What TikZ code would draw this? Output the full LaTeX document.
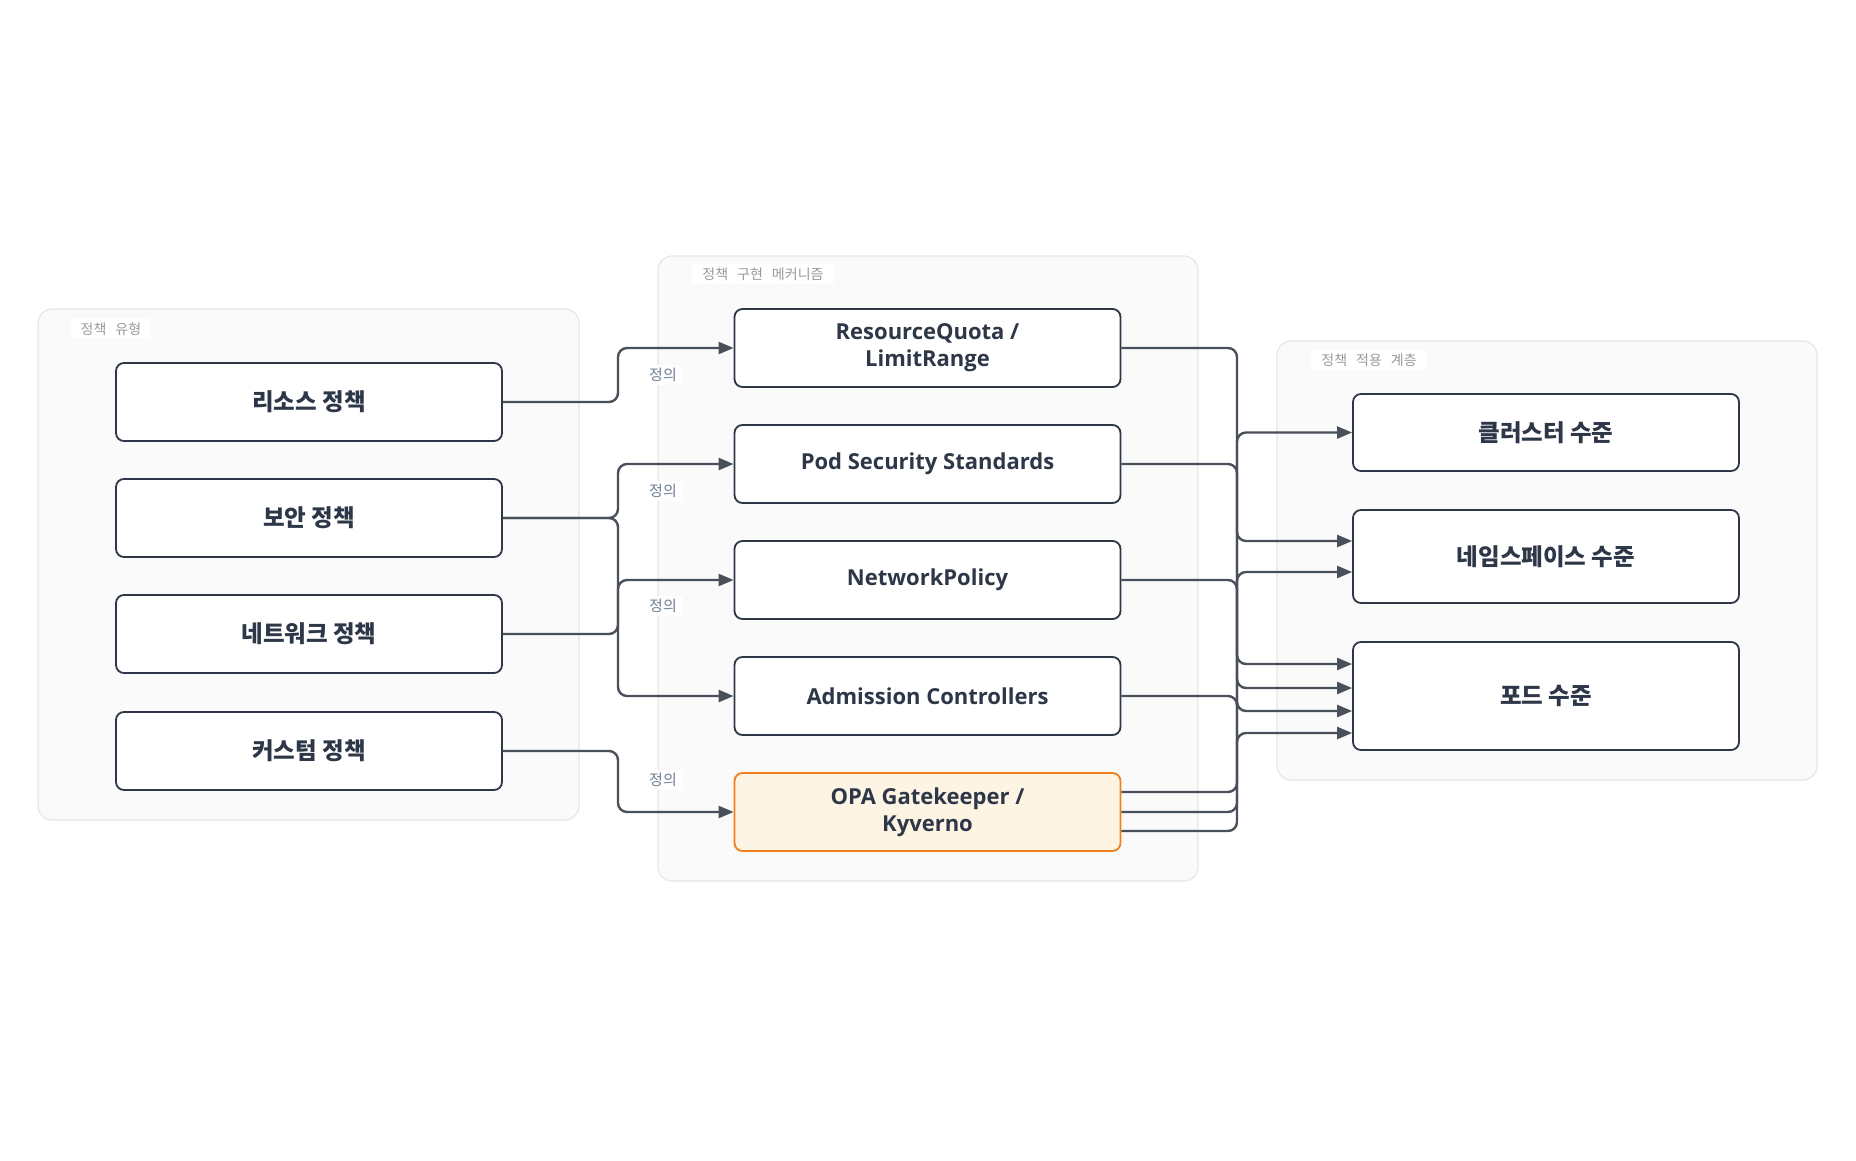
\documentclass[tikz,border=0pt]{standalone}
\usepackage{fontspec}
\setmainfont{Open Sans}
\newfontfamily\kr{Noto Sans CJK KR}
\usetikzlibrary{arrows.meta,calc}
\definecolor{nodeline}{HTML}{2D3748}
\definecolor{edgeline}{HTML}{4A5059}
\definecolor{grpline}{HTML}{E6E6E6}
\definecolor{grpfill}{HTML}{FAFAFA}
\definecolor{grptext}{HTML}{9A9A9A}
\definecolor{lbltext}{HTML}{718096}
\definecolor{opaline}{HTML}{F07F1E}
\definecolor{opafill}{HTML}{FEF4E4}
\begin{document}
\begin{tikzpicture}[x=1pt,y=-1pt,
  grp/.style={draw=grpline,fill=grpfill,rounded corners=14pt,line width=1.2pt},
  grplabel/.style={fill=white,text=grptext,inner xsep=10pt,inner ysep=4pt,font={\kr\fontsize{14}{16}\selectfont\spaceskip=9pt\relax}},
  box/.style={draw=nodeline,fill=white,line width=1.8pt,rounded corners=8pt,minimum width=386pt,minimum height=78pt,inner sep=0pt,text=nodeline,align=center,font=\bfseries\fontsize{22}{27}\selectfont},
  krbox/.style={box,font=\kr\bfseries\fontsize{23.5}{27}\selectfont},
  edge/.style={draw=edgeline,line width=2.4pt,rounded corners=9pt,-{Triangle[length=15pt,width=12pt]}},
  elabel/.style={fill=white,fill opacity=0.85,text opacity=1,text=lbltext,inner xsep=6pt,inner ysep=3pt,font=\kr\fontsize{15}{17}\selectfont}]
\useasboundingbox (0,0) rectangle (1856,1160);

% groups
\draw[grp] (38,309) rectangle (579,820);
\draw[grp] (658,256) rectangle (1198,881);
\draw[grp] (1277,341) rectangle (1817,780);
\node[grplabel] (gtype) at (111,329) {정책 유형};
\node[grplabel] (gmech) at (763,274) {정책 구현 메커니즘};
\node[grplabel] (glevel) at (1369,360) {정책 적용 계층};

% policy types
\node[krbox] (res) at (309,402) {리소스 정책};
\node[krbox] (sec) at (309,518) {보안 정책};
\node[krbox] (net) at (309,634) {네트워크 정책};
\node[krbox] (cus) at (309,751) {커스텀 정책};

% mechanisms
\node[box] (rq) at (927.5,348) {ResourceQuota /\\LimitRange};
\node[box] (pss) at (927.5,464) {Pod Security Standards};
\node[box] (np) at (927.5,580) {NetworkPolicy};
\node[box] (adm) at (927.5,696) {Admission Controllers};
\node[box,draw=opaline,fill=opafill] (opa) at (927.5,812) {OPA Gatekeeper /\\Kyverno};

% levels
\node[krbox,minimum height=77pt] (clu) at (1546,432.5) {클러스터 수준};
\node[krbox,minimum height=93pt] (ns) at (1546,556.5) {네임스페이스 수준};
\node[krbox,minimum height=108pt] (pod) at (1546,696) {포드 수준};

\coordinate (lbus) at (618,0);
\coordinate (rbus) at (1237,0);

% type -> mechanism
\draw[edge] (res.east) -- (res.east -| lbus) |- (rq.west);
\draw[edge] (sec.east) -- (sec.east -| lbus) |- (pss.west);
\draw[edge] (sec.east) -- (sec.east -| lbus) |- (adm.west);
\draw[edge] (net.east) -- (net.east -| lbus) |- (np.west);
\draw[edge] (cus.east) -- (cus.east -| lbus) |- (opa.west);
\node[elabel] (d1) at (663,375) {정의};
\node[elabel] (d2) at (663,491) {정의};
\node[elabel] (d3) at (663,606) {정의};
\node[elabel] (d4) at (663,780) {정의};

% mechanism -> level
\draw[edge] (rq.east) -- (rq.east -| rbus) |- ($(ns.west)+(0,-15.5)$);
\draw[edge] (pss.east) -- (pss.east -| rbus) |- ($(pod.west)+(0,-32)$);
\draw[edge] (np.east) -- (np.east -| rbus) |- ($(pod.west)+(0,-8)$);
\draw[edge] (adm.east) -- (adm.east -| rbus) |- ($(pod.west)+(0,15)$);
\draw[edge] ($(opa.east)+(0,-20)$) -- ($(opa.east -| rbus)+(0,-20)$) |- (clu.west);
\draw[edge] (opa.east) -- (opa.east -| rbus) |- ($(ns.west)+(0,15.5)$);
\draw[edge] ($(opa.east)+(0,19)$) -- ($(opa.east -| rbus)+(0,19)$) |- ($(pod.west)+(0,37)$);

\end{tikzpicture}
\end{document}
